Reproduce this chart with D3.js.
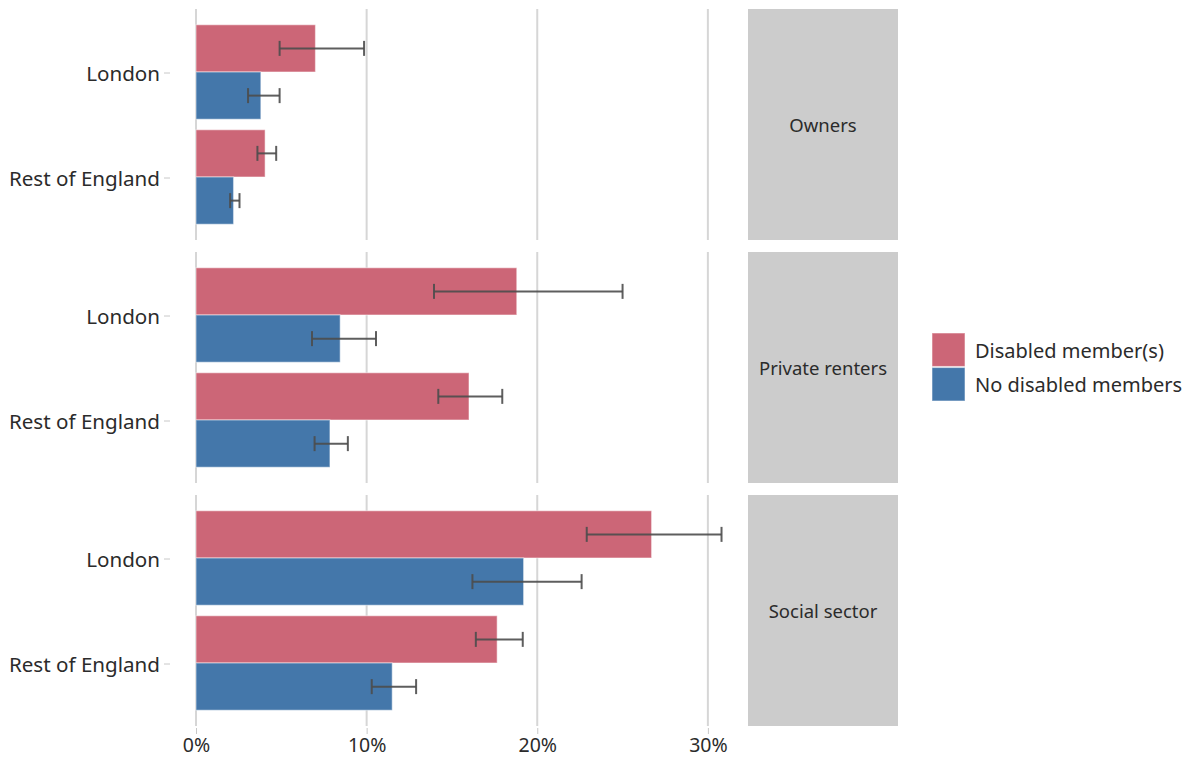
<!DOCTYPE html>
<html>
<head>
<meta charset="utf-8">
<script src="https://cdn.jsdelivr.net/npm/d3@7"></script>
<style>
  body { margin: 0; background: #fff; }
  svg text { font-family: "Noto Sans", "Open Sans", sans-serif; fill: #2b2b2b; }
</style>
</head>
<body>
<svg id="chart" width="1195" height="758"></svg>
<script>
// Tenure facets, regions within each facet, household groups
const tenures = ["Owners", "Private renters", "Social sector"];
const regions = ["London", "Rest of England"];
const groups = ["Disabled member(s)", "No disabled members"];
const groupColors = ["#CC6677", "#4477AA"];

// Share of households (%) per tenure, region order as above; [disabled, no disabled]
const estimate = {
  "Owners":          [[7.0, 3.8], [4.05, 2.2]],
  "Private renters": [[18.8, 8.45], [16.0, 7.85]],
  "Social sector":   [[26.7, 19.2], [17.65, 11.5]]
};
const lower = {
  "Owners":          [[4.9, 3.05], [3.6, 2.0]],
  "Private renters": [[13.95, 6.8], [14.2, 6.95]],
  "Social sector":   [[22.9, 16.2], [16.4, 10.3]]
};
const upper = {
  "Owners":          [[9.85, 4.9], [4.7, 2.55]],
  "Private renters": [[25.0, 10.55], [17.95, 8.9]],
  "Social sector":   [[30.8, 22.6], [19.15, 12.9]]
};
const xTicks = [0, 10, 20, 30];

const svg = d3.select("#chart");

const plotLeft = 196, plotRight = 742;
const panelTops = [9, 252, 495];
const panelH = 231;
const stripX = 748, stripW = 150;

const x = d3.scaleLinear().domain([0, 32]).range([plotLeft, plotRight]);
const color = d3.scaleOrdinal().domain(groups).range(groupColors);

tenures.forEach((t, ti) => {
  const top = panelTops[ti];
  const g = svg.append("g");

  const y = d3.scaleBand().domain(regions)
    .range([top, top + panelH]).paddingInner(0.1).paddingOuter(0.15);
  const ySub = d3.scaleBand().domain(groups).range([0, y.bandwidth()]);

  // vertical gridlines
  g.selectAll("line.grid").data(xTicks).enter().append("line")
    .attr("x1", d => x(d)).attr("x2", d => x(d))
    .attr("y1", top).attr("y2", top + panelH)
    .attr("stroke", "#d6d6d6").attr("stroke-width", 2);

  const rows = [];
  regions.forEach((r, ri) => groups.forEach((gr, gi) => {
    rows.push({ region: r, group: gr,
      v: estimate[t][ri][gi], lo: lower[t][ri][gi], hi: upper[t][ri][gi] });
  }));

  // bars
  g.selectAll("rect.bar").data(rows).enter().append("rect")
    .attr("x", x(0))
    .attr("y", d => y(d.region) + ySub(d.group))
    .attr("width", d => x(d.v) - x(0))
    .attr("height", ySub.bandwidth())
    .attr("fill", d => color(d.group))
    .attr("stroke", "#ffffff").attr("stroke-opacity", 0.45).attr("stroke-width", 1.2);

  // error bars
  const capH = 15;
  const eb = g.selectAll("g.err").data(rows).enter().append("g")
    .attr("stroke", "#4d4d4d").attr("stroke-width", 2).attr("stroke-opacity", 0.9);
  const cy = d => y(d.region) + ySub(d.group) + ySub.bandwidth() / 2;
  eb.append("line").attr("x1", d => x(d.lo)).attr("x2", d => x(d.hi))
    .attr("y1", cy).attr("y2", cy);
  eb.append("line").attr("x1", d => x(d.lo)).attr("x2", d => x(d.lo))
    .attr("y1", d => cy(d) - capH / 2).attr("y2", d => cy(d) + capH / 2);
  eb.append("line").attr("x1", d => x(d.hi)).attr("x2", d => x(d.hi))
    .attr("y1", d => cy(d) - capH / 2).attr("y2", d => cy(d) + capH / 2);

  // y axis
  const yAxis = g.append("g").attr("transform", `translate(${plotLeft - 26},0)`)
    .call(d3.axisLeft(y).tickSize(6).tickPadding(4));
  yAxis.select(".domain").remove();
  yAxis.selectAll(".tick line").attr("stroke", "#c8c8c8").attr("x1", -6).attr("x2", 0)
    .attr("transform", "translate(0,1)");
  yAxis.selectAll(".tick text").attr("font-size", 20.6).attr("x", -10).attr("dy", "0.42em")
    .style("font-family", "'Noto Sans', sans-serif").attr("fill", "#2b2b2b");

  // facet strip
  g.append("rect").attr("x", stripX).attr("y", top)
    .attr("width", stripW).attr("height", panelH).attr("fill", "#cccccc");
  g.append("text").attr("x", stripX + stripW / 2).attr("y", top + panelH / 2)
    .attr("text-anchor", "middle").attr("dominant-baseline", "central")
    .attr("font-size", 18.5).text(t);
});

// x axis
const xAxisY = panelTops[2] + panelH + 2;
const xAxis = svg.append("g").attr("transform", `translate(0,${xAxisY})`)
  .call(d3.axisBottom(x).tickValues(xTicks).tickFormat(d => d + "%").tickSize(6));
xAxis.select(".domain").remove();
xAxis.selectAll(".tick line").attr("stroke", "#c8c8c8");
xAxis.selectAll(".tick text").attr("font-size", 19.5)
  .attr("dy", null).attr("y", 751.5 - xAxisY)
  .style("font-family", "'Noto Sans', sans-serif").attr("fill", "#2b2b2b");

// legend
const legend = svg.append("g").attr("transform", "translate(932,333)");
groups.forEach((gr, i) => {
  legend.append("rect").attr("x", 0).attr("y", i * 34.5)
    .attr("width", 33).attr("height", 33.5).attr("fill", color(gr))
    .attr("stroke", "#ffffff").attr("stroke-opacity", 0.45).attr("stroke-width", 1.2);
  legend.append("text").attr("x", 43).attr("y", i * 34.5 + 17)
    .attr("dominant-baseline", "central").attr("font-size", 20).text(gr);
});
</script>
</body>
</html>
